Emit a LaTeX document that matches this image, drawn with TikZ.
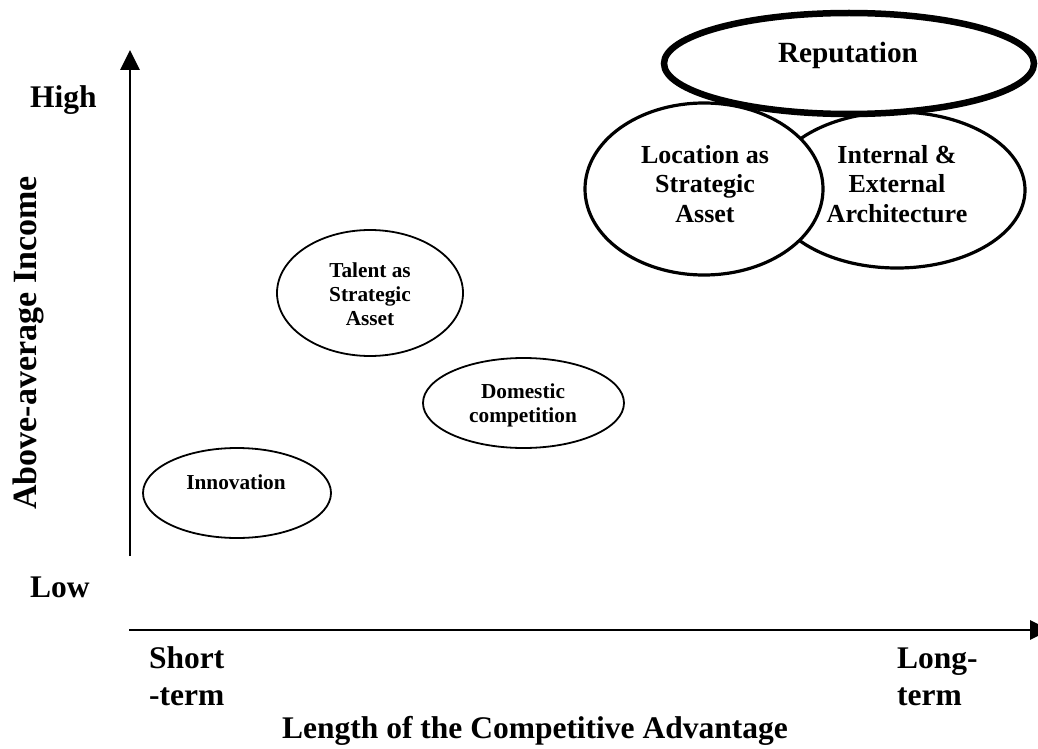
\documentclass[tikz,border=0pt]{standalone}
\usepackage{fontspec}
\setmainfont{Liberation Serif}
\usetikzlibrary{shapes.geometric,arrows.meta}

\tikzset{
  axisline/.style={line width=2.8pt, -{Triangle[length=20pt,width=19pt]}},
  bubble/.style={ellipse, draw, fill=white, inner sep=0pt, outer sep=0pt},
  thinbubble/.style={bubble, line width=1.8pt},
  midbubble/.style={bubble, line width=3.2pt},
  heavybubble/.style={bubble, line width=6.5pt},
  axislabel/.style={font=\bfseries\fontsize{31.5}{37}\selectfont, inner sep=0pt, align=left},
  smalltext/.style={font=\bfseries\fontsize{21.3}{24}\selectfont, inner sep=0pt, align=center},
  midtext/.style={font=\bfseries\fontsize{26}{29.5}\selectfont, inner sep=0pt, align=center},
  bigtext/.style={font=\bfseries\fontsize{29.3}{34}\selectfont, inner sep=0pt},
}

\begin{document}
\begin{tikzpicture}[x=1pt, y=-1pt]
  \useasboundingbox (0,0) rectangle (1038,749);

  % axes
  \coordinate (yfoot) at (130,556);
  \coordinate (ytip) at (130,50);
  \coordinate (xfoot) at (129,630);
  \coordinate (xtip) at (1050,630);
  \draw[axisline] (yfoot) -- (ytip);
  \draw[axisline] (xfoot) -- (xtip);

  % factor ellipses
  \node[thinbubble, minimum width=188pt, minimum height=90pt] (innov) at (237,493) {};
  \node[thinbubble, minimum width=186pt, minimum height=126pt] (talent) at (370,293) {};
  \node[thinbubble, minimum width=201pt, minimum height=90pt] (domestic) at (523.5,403) {};
  \node[midbubble, minimum width=256pt, minimum height=156pt] (archi) at (897,190) {};
  \node[midbubble, minimum width=238pt, minimum height=172pt] (location) at (704,189) {};
  \node[heavybubble, minimum width=370pt, minimum height=101pt] (reput) at (849,63.5) {};

  % ellipse texts (base anchor sits on the last line)
  \node[smalltext, anchor=base] (innovtext) at (236,489) {Innovation};
  \node[smalltext, anchor=base] (talenttext) at (370,325) {Talent as\\Strategic\\Asset};
  \node[smalltext, anchor=base] (domestictext) at (523,422) {Domestic\\competition};
  \node[midtext, anchor=base] (locationtext) at (705,222) {Location as\\Strategic\\Asset};
  \node[midtext, anchor=base] (architext) at (897,222) {Internal \&\\External\\Architecture};
  \node[bigtext, anchor=base] (reputtext) at (848,63) {Reputation};

  % axis labels
  \node[axislabel, anchor=base west] (high) at (30,108) {High};
  \node[axislabel, anchor=base west] (low) at (30,597) {Low};
  \node[axislabel, anchor=base west] (short) at (149,705) {Short\\-term};
  \node[axislabel, anchor=base west] (long) at (897,705) {Long-\\term};
  \node[axislabel, anchor=base] (xtitle) at (535,738) {Length of the Competitive Advantage};
  \node[font=\bfseries\fontsize{34}{40}\selectfont, inner sep=0pt, rotate=90, anchor=base] (ytitle) at (36,343) {Above-average Income};
\end{tikzpicture}
\end{document}
